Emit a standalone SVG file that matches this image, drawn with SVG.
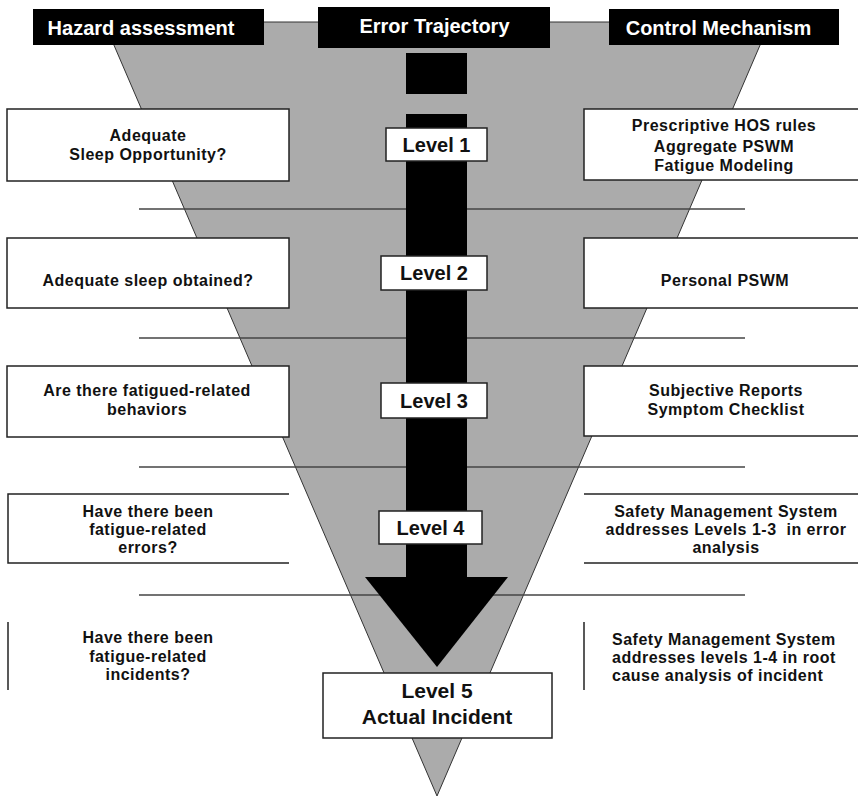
<svg xmlns="http://www.w3.org/2000/svg" width="858" height="797" viewBox="0 0 858 797">
<style>
.hdr{fill:#000}
.hdrt{font-family:"Liberation Sans",Arial,sans-serif;font-size:20px;font-weight:bold;fill:#fff;text-anchor:middle}
.box{fill:#fff;stroke:#222;stroke-width:1.5}
.edge{stroke:#222;stroke-width:1.5;fill:none}
.sep{stroke:#444;stroke-width:1.6;fill:none}
.t{font-family:"Liberation Sans",Arial,sans-serif;font-size:16px;font-weight:bold;fill:#111;text-anchor:middle;letter-spacing:0.5px}
.lv{font-family:"Liberation Sans",Arial,sans-serif;font-size:20px;font-weight:bold;fill:#111;text-anchor:middle}
</style>
<rect width="858" height="797" fill="#fff"/>
<g id="funnel">
<polygon points="104,22 770,22 437,796" fill="#ababab" stroke="#333" stroke-width="1"/>
</g>
<g id="separators">
<line class="sep" x1="139" y1="209" x2="745" y2="209"/>
<line class="sep" x1="139" y1="338" x2="745" y2="338"/>
<line class="sep" x1="139" y1="467" x2="745" y2="467"/>
<line class="sep" x1="139" y1="595" x2="745" y2="595"/>
</g>
<g id="connectors">
<rect x="406" y="53" width="61" height="41" fill="#000"/>
<rect x="406" y="114" width="61" height="464" fill="#000"/>
<polygon points="365,577 508,577 437,667" fill="#000"/>
</g>
<g id="level1"><rect class="box" x="386" y="128" width="101" height="33"/><text class="lv" x="436.5" y="152">Level 1</text></g>
<g id="level2"><rect class="box" x="381" y="256" width="106" height="34"/><text class="lv" x="434" y="280">Level 2</text></g>
<g id="level3"><rect class="box" x="381" y="383" width="106" height="35"/><text class="lv" x="434" y="408">Level 3</text></g>
<g id="level4"><rect class="box" x="379" y="511" width="103" height="33"/><text class="lv" x="430.5" y="535">Level 4</text></g>
<g id="level5"><rect class="box" x="323" y="673" width="229" height="65"/><text class="lv" x="437" y="698" style="font-size:21px">Level 5</text><text class="lv" x="437" y="724" style="font-size:21px">Actual Incident</text></g>
<g id="hazard1"><rect class="box" x="7" y="109" width="282" height="72"/><text class="t" x="148" y="141">Adequate</text><text class="t" x="148" y="160">Sleep Opportunity?</text></g>
<g id="hazard2"><rect class="box" x="7" y="238" width="282" height="70"/><text class="t" x="148" y="286">Adequate sleep obtained?</text></g>
<g id="hazard3"><rect class="box" x="7" y="366" width="282" height="71"/><text class="t" x="147" y="396">Are there fatigued-related</text><text class="t" x="147" y="415">behaviors</text></g>
<g id="hazard4"><path class="edge" d="M289,494 H8 V563 H289"/><text class="t" x="148" y="517">Have there been</text><text class="t" x="148" y="535">fatigue-related</text><text class="t" x="148" y="553">errors?</text></g>
<g id="hazard5"><line class="edge" x1="8" y1="622" x2="8" y2="690"/><text class="t" x="148" y="643">Have there been</text><text class="t" x="148" y="662">fatigue-related</text><text class="t" x="148" y="680">incidents?</text></g>
<g id="control1"><rect class="box" x="584" y="109" width="280" height="71"/><text class="t" x="724" y="131">Prescriptive HOS rules</text><text class="t" x="724" y="152">Aggregate PSWM</text><text class="t" x="724" y="171">Fatigue Modeling</text></g>
<g id="control2"><rect class="box" x="584" y="238" width="280" height="70"/><text class="t" x="725" y="286">Personal PSWM</text></g>
<g id="control3"><rect class="box" x="584" y="366" width="280" height="70"/><text class="t" x="726" y="396">Subjective Reports</text><text class="t" x="726" y="415">Symptom Checklist</text></g>
<g id="control4"><line class="edge" x1="584" y1="494" x2="858" y2="494"/><line class="edge" x1="584" y1="563" x2="858" y2="563"/><text class="t" x="726" y="517">Safety Management System</text><text class="t" x="726" y="535" xml:space="preserve">addresses Levels 1-3  in error</text><text class="t" x="726" y="553">analysis</text></g>
<g id="control5"><line class="edge" x1="584" y1="622" x2="584" y2="690"/><text class="t" x="612" y="645" style="text-anchor:start">Safety Management System</text><text class="t" x="612" y="663" style="text-anchor:start">addresses levels 1-4 in root</text><text class="t" x="612" y="681" style="text-anchor:start">cause analysis of incident</text></g>
<g id="header-hazard"><rect class="hdr" x="33" y="9" width="231" height="36"/><text class="hdrt" x="141" y="35">Hazard assessment</text></g>
<g id="header-error"><rect class="hdr" x="318" y="7" width="232" height="41"/><text class="hdrt" x="434.5" y="33">Error Trajectory</text></g>
<g id="header-control"><rect class="hdr" x="609" y="9" width="230" height="36"/><text class="hdrt" x="718.5" y="35">Control Mechanism</text></g>
</svg>
